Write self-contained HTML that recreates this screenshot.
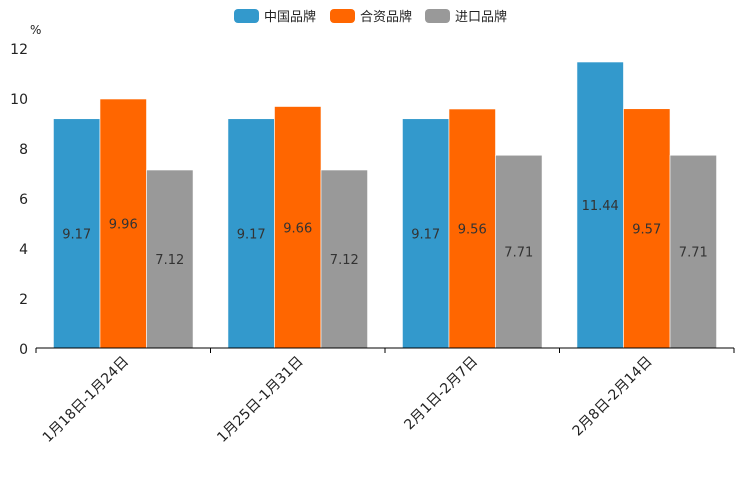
<!DOCTYPE html>
<html><head><meta charset="utf-8"><style>
body{margin:0;background:#fff}
svg{display:block;font-family:"DejaVu Sans","Noto Sans CJK SC",sans-serif}
</style></head><body>
<svg id="c" width="744" height="496"></svg>
<script>
const categories=["1月18日-1月24日","1月25日-1月31日","2月1日-2月7日","2月8日-2月14日"];
const seriesNames=["中国品牌","合资品牌","进口品牌"];
const chinaValues=[9.17,9.17,9.17,11.44];
const jvValues=[9.96,9.66,9.56,9.57];
const importValues=[7.12,7.12,7.71,7.71];
const yTicks=[0,2,4,6,8,10,12];
const colors=["#3399cc","#ff6600","#999999"];
const series=[chinaValues,jvValues,importValues];
const NS="http://www.w3.org/2000/svg";
const svg=document.getElementById("c");
const x0=36,x1=734,y0=348,yTop=48,yMax=12;
const gw=(x1-x0)/categories.length;
const y=v=>y0-(v/yMax)*(y0-yTop);
function mk(t,a,p){const e=document.createElementNS(NS,t);for(const k in a)e.setAttribute(k,a[k]);(p||svg).appendChild(e);return e;}
yTicks.forEach(v=>{const t=mk("text",{x:28,y:y(v)+6,"text-anchor":"end","font-size":14,fill:"#222"});t.textContent=v;

});
const u=mk("text",{x:30,y:34,"font-size":12,fill:"#222"});u.textContent="%";


const bw=gw*0.8/3;
categories.forEach((c,i)=>{
  series.forEach((s,j)=>{
    const bx=x0+i*gw+gw*0.1+j*bw;
    const r=mk("rect",{x:bx,y:y(s[i]),width:bw,height:y0-y(s[i]),fill:colors[j],stroke:"#fff","stroke-width":0.6});
    
    
    const t=mk("text",{x:bx+bw/2,y:(y(s[i])+y0)/2+5,"text-anchor":"middle","font-size":13,fill:"#333"});
    t.textContent=s[i].toFixed(2);
    
    
  });
  const cx=x0+i*gw+gw/2;
  const l=mk("text",{x:0,y:0,"text-anchor":"end","font-size":14,fill:"#222",transform:`translate(${cx+6},${y0+14}) rotate(-45)`});
  l.textContent=c;
  
  
});
const ax=mk("line",{x1:x0,y1:y0,x2:x1,y2:y0,stroke:"#000","stroke-width":1});


for(let i=0;i<=categories.length;i++){const tk=mk("line",{x1:x0+i*gw,y1:y0,x2:x0+i*gw,y2:y0+5,stroke:"#000"});

}
const lx=[234,330,425];
seriesNames.forEach((n,j)=>{
  const g=mk("g",{});
  
  
  mk("rect",{x:lx[j],y:9,width:25,height:14,rx:4,fill:colors[j]},g);
  const t=mk("text",{x:lx[j]+30,y:21,"font-size":13,fill:"#222"},g);t.textContent=n;
});
</script>
</body></html>
